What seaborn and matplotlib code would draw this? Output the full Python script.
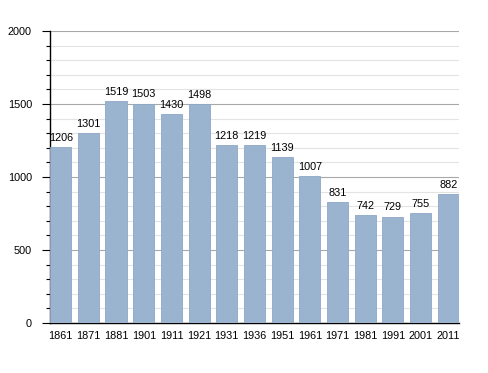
import pandas as pd
import matplotlib
matplotlib.use("Agg")
import matplotlib.pyplot as plt
import seaborn as sns
from matplotlib.ticker import MultipleLocator

years = ["1861", "1871", "1881", "1901", "1911", "1921", "1931", "1936",
         "1951", "1961", "1971", "1981", "1991", "2001", "2011"]
population = [1206, 1301, 1519, 1503, 1430, 1498, 1218, 1219,
              1139, 1007, 831, 742, 729, 755, 882]

df = pd.DataFrame({"year": years, "pop": population})

sns.set_style("white")
plt.rcParams["font.family"] = ["Liberation Sans", "DejaVu Sans"]
plt.rcParams["text.color"] = "black"
plt.rcParams["xtick.color"] = "black"
plt.rcParams["ytick.color"] = "black"

fig = plt.figure(figsize=(4.88, 3.73), dpi=100)
ax = fig.add_axes([0.1025, 0.134, 0.838, 0.783])

sns.barplot(data=df, x="year", y="pop", color="#9ab3cf", saturation=1,
            width=0.77, edgecolor="#8ea8c6", linewidth=0.6, ax=ax, zorder=3)

# value labels on top of the bars
for i, v in enumerate(population):
    ax.text(i, v + 28, str(v), ha="center", va="bottom", fontsize=7.8,
            color="black", zorder=4)

ax.set_ylim(0, 2000)
ax.set_xlim(-0.39, len(years) - 0.61)
ax.yaxis.set_major_locator(MultipleLocator(500))
ax.yaxis.set_minor_locator(MultipleLocator(100))
ax.grid(which="major", axis="y", color="#a8a8a8", linewidth=0.8, zorder=0)
ax.grid(which="minor", axis="y", color="#e3e3e3", linewidth=0.8, zorder=0)
ax.set_axisbelow(True)

for s in ["top", "right"]:
    ax.spines[s].set_visible(False)
ax.spines["left"].set_color("black")
ax.spines["bottom"].set_color("black")
ax.spines["left"].set_linewidth(1.0)
ax.spines["bottom"].set_linewidth(1.0)

ax.tick_params(axis="y", which="major", left=True, length=6, width=0.8,
               labelsize=7.8, pad=7)
ax.tick_params(axis="y", which="minor", left=True, length=3, width=0.8)
ax.tick_params(axis="x", bottom=False, labelsize=7.8, pad=2)
ax.set_xlabel("")
ax.set_ylabel("")

fig.savefig("out.png", dpi=100)
